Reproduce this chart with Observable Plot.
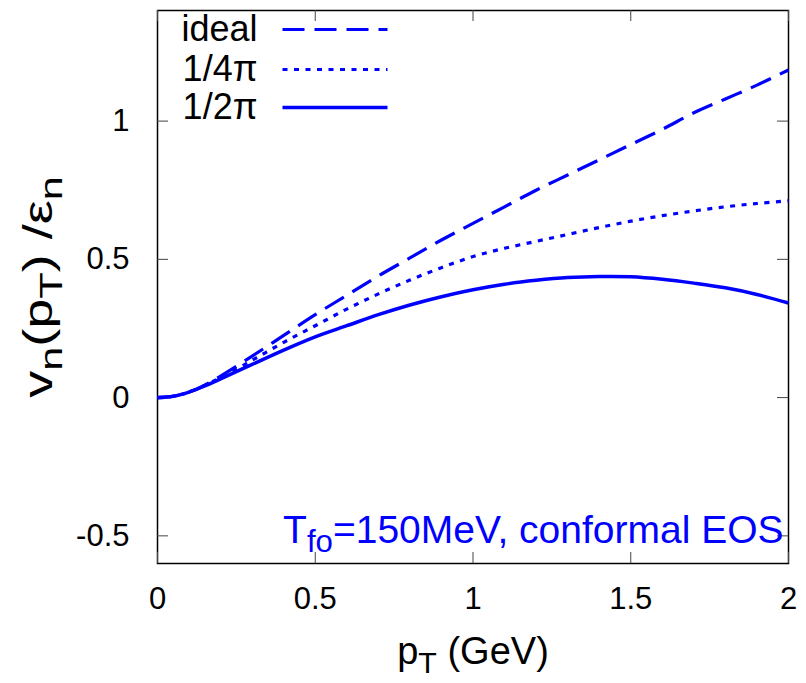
<!DOCTYPE html>
<html>
<head>
<meta charset="utf-8">
<script src="https://cdn.jsdelivr.net/npm/d3@7"></script>
<script src="https://cdn.jsdelivr.net/npm/@observablehq/plot@0.6"></script>
<style>
  html, body { margin: 0; padding: 0; background: #fff; }
  #chart { width: 806px; height: 683px; }
</style>
</head>
<body>
<div id="chart"></div>
<script>
// ---- data ----
const pT = [0, 0.05, 0.1, 0.15, 0.2, 0.3, 0.4, 0.5, 0.6, 0.7, 0.8, 0.9, 1.0, 1.1, 1.2, 1.3, 1.4, 1.5, 1.6, 1.7, 1.8, 1.9, 2.0];
const idealV = [0, 0.005, 0.02, 0.045, 0.078, 0.15, 0.225, 0.30, 0.37, 0.44, 0.505, 0.57, 0.63, 0.69, 0.75, 0.805, 0.86, 0.915, 0.97, 1.03, 1.08, 1.13, 1.185];
const quarterPiV = [0, 0.005, 0.02, 0.045, 0.072, 0.135, 0.2, 0.26, 0.32, 0.375, 0.425, 0.47, 0.51, 0.54, 0.565, 0.59, 0.615, 0.638, 0.658, 0.675, 0.69, 0.702, 0.712];
const halfPiV = [0, 0.005, 0.02, 0.042, 0.068, 0.12, 0.172, 0.22, 0.26, 0.30, 0.335, 0.365, 0.39, 0.41, 0.424, 0.434, 0.438, 0.437, 0.428, 0.414, 0.397, 0.373, 0.342];
const seriesNames = ["ideal", "1/4π", "1/2π"];
const seriesDash = ["22,10", "5,6.5", null];
const xTicks = [0, 0.5, 1, 1.5, 2];
const yTicks = [-0.5, 0, 0.5, 1];
const xDomain = [0, 2];
const yDomain = [-0.6, 1.4];
const xLabel = "p_{T} (GeV)";
const yLabel = "v_{n}(p_{T}) /ε_{n}";
const note = "T_{fo}=150MeV, conformal EOS";

// ---- layout ----
const W = 806, H = 683;
const mL = 157, mR = 18, mT = 10, mB = 120;
const plotW = W - mL - mR, plotH = H - mT - mB;
const tickLen = 11;
const blue = "#0000ff";
const font = "Liberation Sans, Arial, Helvetica, sans-serif";
const fsTick = 31, fsLegend = 36, fsLabel = 38, fsYLabel = 40, fsNote = 39;
const yLabelStretch = 1.35;  // the reference y label runs longer than its glyph size suggests

const xs = d3.scaleLinear(xDomain, [mL, W - mR]);
const ys = d3.scaleLinear(yDomain, [H - mB, mT]);

const seriesVals = [idealV, quarterPiV, halfPiV];
const lineData = seriesNames.map((name, k) => pT.map((x, i) => ({x, y: seriesVals[k][i], name})));

const legendRowsPx = [29, 69, 107];
const legend = seriesNames.map((name, k) => ({
  name, dash: seriesDash[k],
  tx: xs.invert(257), x1: xs.invert(282), x2: xs.invert(387), y: ys.invert(legendRowsPx[k])
}));

const marks = [
  Plot.frame({stroke: "black", strokeWidth: 1.5}),
  // inward ticks on all four sides
  Plot.tickX(xTicks, {x: d => d, insetTop: plotH - tickLen, stroke: "#444", strokeWidth: 1}),
  Plot.tickX(xTicks, {x: d => d, insetBottom: plotH - tickLen, stroke: "#444", strokeWidth: 1}),
  Plot.tickY(yTicks, {y: d => d, insetRight: plotW - tickLen, stroke: "#444", strokeWidth: 1}),
  Plot.tickY(yTicks, {y: d => d, insetLeft: plotW - tickLen, stroke: "#444", strokeWidth: 1}),
];
lineData.forEach((data, k) => {
  marks.push(Plot.line(data, {x: "x", y: "y", stroke: blue, strokeWidth: k === 2 ? 3.5 : 3.2,
    strokeDasharray: seriesDash[k] || undefined, strokeLinecap: "butt", curve: "catmull-rom"}));
});
legend.forEach(d => {
  marks.push(Plot.link([d], {x1: "x1", x2: "x2", y1: "y", y2: "y", stroke: blue, strokeWidth: d.dash === null ? 3.5 : 3.2,
    strokeDasharray: d.dash || undefined, strokeLinecap: "butt"}));
  marks.push(Plot.text([d], {x: "tx", y: "y", text: "name", textAnchor: "end", fontSize: fsLegend, fill: "black", lineAnchor: "middle"}));
});
marks.push(Plot.text([note], {frameAnchor: "bottom-right", dx: -5, dy: -33, textAnchor: "end", lineAnchor: "middle", fill: blue, fontSize: fsNote}));
marks.push(Plot.text([xLabel], {frameAnchor: "bottom", dy: 88, textAnchor: "middle", lineAnchor: "middle", fill: "black", fontSize: fsLabel}));
marks.push(Plot.text([yLabel], {frameAnchor: "left", dx: -118, rotate: -90, textAnchor: "middle", lineAnchor: "middle", fill: "black", fontSize: fsYLabel}));

const chart = Plot.plot({
  width: W, height: H,
  marginLeft: mL, marginRight: mR, marginTop: mT, marginBottom: mB,
  style: {fontFamily: font, fontSize: fsTick + "px", background: "white", color: "black", overflow: "visible"},
  x: {domain: xDomain, ticks: xTicks, tickSize: 0, tickPadding: 23, tickFormat: d => String(d), label: null},
  y: {domain: yDomain, ticks: yTicks, tickSize: 0, tickPadding: 28, tickFormat: d => String(d), label: null},
  marks
});

// turn _{...} into subscript tspans
d3.select(chart).selectAll("text").each(function() {
  const t = this.textContent;
  if (!t.includes("_{")) return;
  const parts = t.split(/(_\{[^}]*\})/).filter(s => s);
  const sel = d3.select(this);
  sel.selectAll("*").remove();
  sel.text(null);
  let shifted = false;
  for (const p of parts) {
    if (p.startsWith("_{")) {
      sel.append("tspan").attr("font-size", "0.8em").attr("dy", "0.3em").text(p.slice(2, -1));
      shifted = true;
    } else {
      const ts = sel.append("tspan").text(p);
      if (shifted) { ts.attr("dy", "-0.24em"); shifted = false; }
    }
  }
});

document.getElementById("chart").appendChild(chart);

// lengthen the rotated y label along its reading direction
d3.select(chart).selectAll("text").each(function() {
  const tr = this.getAttribute("transform");
  if (tr && /rotate/.test(tr)) this.setAttribute("transform", tr + ` scale(${yLabelStretch},1)`);
});
</script>
</body>
</html>
